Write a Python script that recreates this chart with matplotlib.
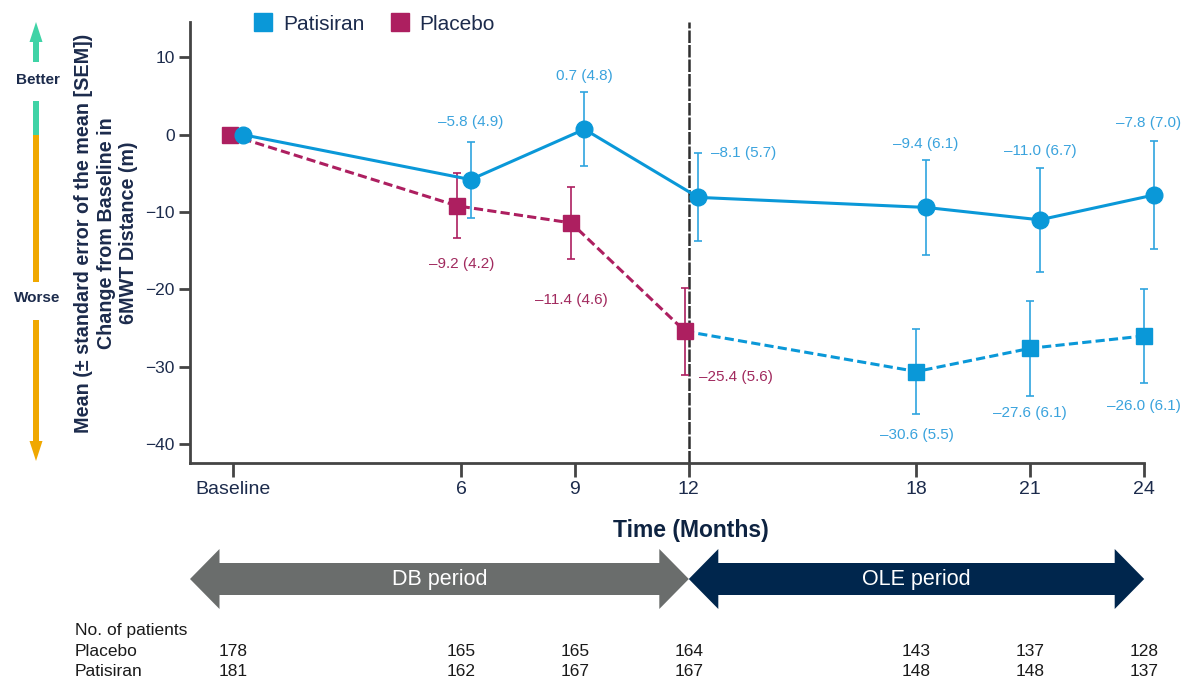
import matplotlib
matplotlib.use('Agg')
import matplotlib.pyplot as plt
from matplotlib.lines import Line2D
from matplotlib.patches import Polygon
from matplotlib.transforms import blended_transform_factory
import numpy as np

plt.rcParams['font.family'] = ['Liberation Sans', 'DejaVu Sans']

# ---------------- data ----------------
months = [0, 6, 9, 12, 18, 21, 24]
month_labels = ['Baseline', '6', '9', '12', '18', '21', '24']

pat_months = [0, 6, 9, 12, 18, 21, 24]
pat_mean = [0.0, -5.8, 0.7, -8.1, -9.4, -11.0, -7.8]
pat_sem = [0.0, 4.9, 4.8, 5.7, 6.1, 6.7, 7.0]

pbo_months = [0, 6, 9, 12]
pbo_mean = [0.0, -9.2, -11.4, -25.4]
pbo_sem = [0.0, 4.2, 4.6, 5.6]

ole_months = [12, 18, 21, 24]
ole_mean = [-25.4, -30.6, -27.6, -26.0]
ole_sem = [5.6, 5.5, 6.1, 6.1]

n_placebo = [178, 165, 165, 164, 143, 137, 128]
n_patisiran = [181, 162, 167, 167, 148, 148, 137]

# ---------------- style ----------------
BLUE = '#0A98D8'
BLUE_ERR = '#2FA4DF'
BLUE_TXT = '#3AA3DD'
MAG = '#AD1F60'
MAG_TXT = '#A12A5E'
NAVY = '#1C2B4C'
SPINE = '#444444'

W, H = 1184, 681
fig = plt.figure(figsize=(W / 100, H / 100), dpi=100)
ov = fig.add_axes([0, 0, 1, 1], zorder=-1)
ov.set_xlim(0, W)
ov.set_ylim(H, 0)
ov.axis('off')

ax = fig.add_axes([190 / W, (H - 463) / H, 980 / W, (463 - 22) / H])
ax.patch.set_alpha(0)
ax.set_xlim(-1.144, 24.68)
ax.set_ylim(-42.42, 14.56)

pat_dx, pbo_dx = 0.25, -0.1
xp = np.array(pat_months) + pat_dx
xb = np.array(pbo_months) + pbo_dx
xo = np.array(ole_months, dtype=float)
xo[0] += pbo_dx

ax.axvline(12, color='#2E2E2E', lw=1.8, ls=(0, (5, 0.8)), zorder=2)

# placebo (DB) dashed
ax.plot(xb, pbo_mean, color=MAG, lw=2.2, ls=(0, (3, 1.4)), zorder=3, clip_on=False)
ax.errorbar(xb[1:], pbo_mean[1:], yerr=pbo_sem[1:], fmt='none', ecolor=MAG,
            elinewidth=1.2, capsize=3, capthick=1.2, zorder=3)
# placebo -> patisiran (OLE) dashed blue
ax.plot(xo, ole_mean, color=BLUE, lw=2.2, ls=(0, (3, 1.4)), zorder=3)
ax.errorbar(xo[1:], ole_mean[1:], yerr=ole_sem[1:], fmt='none', ecolor=BLUE_ERR,
            elinewidth=1.2, capsize=3, capthick=1.2, zorder=3)
ax.plot(xo[1:], ole_mean[1:], ls='none', marker='s', ms=12, color=BLUE, zorder=4, clip_on=False)
ax.plot(xb, pbo_mean, ls='none', marker='s', ms=12, color=MAG, zorder=4, clip_on=False)

# patisiran solid
ax.errorbar(xp[1:], pat_mean[1:], yerr=pat_sem[1:], fmt='none', ecolor=BLUE_ERR,
            elinewidth=1.2, capsize=3, capthick=1.2, zorder=5)
ax.plot(xp, pat_mean, color=BLUE, lw=2.2, marker='o', ms=12, zorder=6, clip_on=False)


def lab(m, s):
    return f"{m:.1f} ({s:.1f})".replace('-', '\u2013')


LFS = 11
# label layout: (mode, dx pt, dy pt)
pat_layout = [None, ('top', 0, 14), ('top', 0, 11.5), ('right', 9, 0),
              ('top', 0, 11.7), ('top', 0, 12.2), ('top', -4, 12.9)]
pbo_layout = [None, ('bot', 3, -18.4), ('bot', 0, -30), ('rbot', 10, -2)]
ole_layout = [None, ('bot', 0, -15), ('bot', 0, -12.6), ('bot', 0, -16.5)]


def place(xs, means, sems, layout, color):
    for x, m, s, L in zip(xs, means, sems, layout):
        if L is None:
            continue
        mode, dx, dy = L
        anchor_y = m + s if mode in ('top', 'right') else m - s
        ha = 'left' if mode in ('right', 'rbot') else 'center'
        ax.annotate(lab(m, s), (x, anchor_y), xytext=(dx, dy), textcoords='offset points',
                    ha=ha, va='center', fontsize=LFS, color=color)


place(xp, pat_mean, pat_sem, pat_layout, BLUE_TXT)
place(xb, pbo_mean, pbo_sem, pbo_layout, MAG_TXT)
place(xo, ole_mean, ole_sem, ole_layout, BLUE_TXT)

# axes styling
for sp in ['top', 'right']:
    ax.spines[sp].set_visible(False)
for sp in ['left', 'bottom']:
    ax.spines[sp].set_color(SPINE)
    ax.spines[sp].set_linewidth(2)
ax.spines['bottom'].set_bounds(-1.144, 24)
ax.set_xticks(months)
ax.set_xticklabels(month_labels)
ax.set_yticks([10, 0, -10, -20, -30, -40])
ax.tick_params(axis='x', length=10, width=2, color=SPINE, labelsize=14, labelcolor=NAVY, pad=3)
ax.tick_params(axis='y', length=8, width=2, color=SPINE, labelsize=12.5, labelcolor=NAVY, pad=3)

# legend
handles = [Line2D([], [], ls='none', marker='s', ms=12.5, mfc=BLUE, mec=BLUE, label='Patisiran'),
           Line2D([], [], ls='none', marker='s', ms=12.5, mfc=MAG, mec=MAG, label='Placebo')]
fig.legend(handles=handles, loc='center left', bbox_to_anchor=(255 / W, 1 - 24 / H), ncol=2,
           frameon=False, fontsize=15, handlelength=0.8, handletextpad=0.55,
           columnspacing=1.3, borderpad=0, borderaxespad=0, labelcolor=NAVY)

# y label
ov.text(106, 233, 'Mean (\u00b1 standard error of the mean [SEM])\nChange from Baseline in\n6MWT Distance (m)',
        rotation=90, ha='center', va='center', multialignment='center', fontsize=14.2,
        fontweight='bold', color=NAVY, linespacing=1.2)

# better / worse arrow
GREEN = '#3FD3A6'
ORANGE = '#F0A800'
ov.add_patch(Polygon([(29.5, 42), (36, 22), (42.5, 42)], closed=True, color=GREEN, lw=0))
ov.add_patch(Polygon([(33, 41), (39, 41), (39, 62), (33, 62)], closed=True, color=GREEN, lw=0))
ov.add_patch(Polygon([(33, 101), (39, 101), (39, 135), (33, 135)], closed=True, color=GREEN, lw=0))
ov.add_patch(Polygon([(33, 135), (39, 135), (39, 282), (33, 282)], closed=True, color=ORANGE, lw=0))
ov.add_patch(Polygon([(33, 320), (39, 320), (39, 442), (33, 442)], closed=True, color=ORANGE, lw=0))
ov.add_patch(Polygon([(29.5, 441), (36, 461), (42.5, 441)], closed=True, color=ORANGE, lw=0))
ov.text(38, 80, 'Better', ha='center', va='center', fontsize=11, fontweight='bold', color=NAVY)
ov.text(37, 298, 'Worse', ha='center', va='center', fontsize=11, fontweight='bold', color=NAVY)

# x label
ov.text(691, 530, 'Time (Months)', ha='center', va='center', fontsize=16.5, fontweight='bold', color='#0E2341')

# period arrows (x in months, y in pixels)
bt = blended_transform_factory(ax.transData, ov.transData)
hl = 29.5 / 37.95


def period_arrow(x0, x1, yc, color, text):
    sh, hh = 16, 30
    verts = [(x0, yc), (x0 + hl, yc - hh), (x0 + hl, yc - sh), (x1 - hl, yc - sh), (x1 - hl, yc - hh),
             (x1, yc), (x1 - hl, yc + hh), (x1 - hl, yc + sh), (x0 + hl, yc + sh), (x0 + hl, yc + hh)]
    ov.add_patch(Polygon(verts, closed=True, facecolor=color, edgecolor='none', transform=bt))
    ov.text((x0 + x1) / 2, yc, text, transform=bt, ha='center', va='center', fontsize=15.5, color='white')


period_arrow(-1.144, 12, 579, '#6A6D6C', 'DB period')
period_arrow(12, 24, 579, '#00264D', 'OLE period')

# patients table
NARROW = ['Liberation Sans Narrow', 'Liberation Sans', 'DejaVu Sans']
TXT = '#1A1A1A'
TFS = 12.5
ov.text(75, 631, 'No. of patients', ha='left', va='center', fontsize=TFS, family=NARROW, color=TXT)
ov.text(75, 651, 'Placebo', ha='left', va='center', fontsize=TFS, family=NARROW, color=TXT)
ov.text(75, 671, 'Patisiran', ha='left', va='center', fontsize=TFS, family=NARROW, color=TXT)
for m, a, b in zip(months, n_placebo, n_patisiran):
    ov.text(m, 651, str(a), transform=bt, ha='center', va='center', fontsize=TFS, family=NARROW, color=TXT)
    ov.text(m, 671, str(b), transform=bt, ha='center', va='center', fontsize=TFS, family=NARROW, color=TXT)

fig.savefig('out.png', dpi=100)
